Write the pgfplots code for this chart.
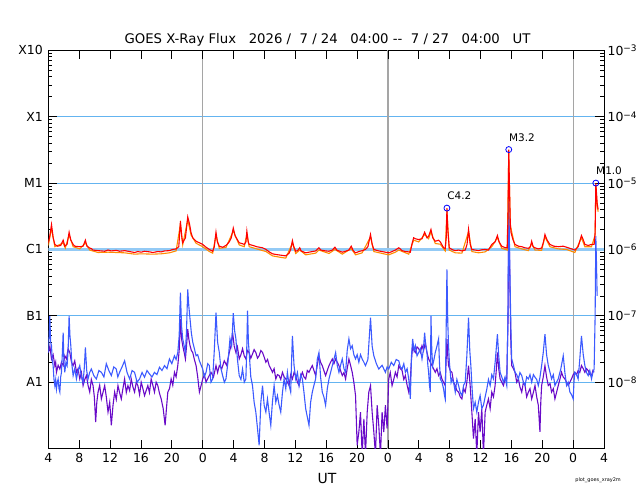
\documentclass[border=0pt]{standalone}
\usepackage{pgfplots}
\pgfplotsset{compat=1.18}
\usepackage{fontspec}
\setmainfont{DejaVu Sans}
\definecolor{goesred}{RGB}{255,0,0}
\definecolor{goesorange}{RGB}{255,140,0}
\definecolor{goesblue}{RGB}{60,90,255}
\definecolor{goespurple}{RGB}{105,10,200}
\definecolor{gridblue}{RGB}{100,180,240}
\definecolor{daygray}{RGB}{165,165,165}
\newcommand{\sexp}[1]{10\raisebox{0.55ex}{\fontsize{9}{9}\selectfont −#1}}
\begin{document}
\begin{tikzpicture}
\begin{axis}[
  width=557.5pt, height=399.5pt, scale only axis,
  xmin=0, xmax=72, ymode=log, ymin=1e-9, ymax=1e-3,
  xtick={0,4,...,72},
  xticklabels={4,8,12,16,20,0,4,8,12,16,20,0,4,8,12,16,20,0,4},
  ytick={1e-8,1e-7,1e-6,1e-5,1e-4,1e-3},
  yticklabels={A1,B1,C1,M1,X1,X10},
  tick align=inside, major tick length=9pt, minor tick length=4pt,
  tick style={black, line width=0.7pt},
  axis line style={black, line width=0.8pt},
  ymajorgrids, major grid style={gridblue, line width=0.8pt},
  extra x ticks={20,44,68}, extra x tick labels={},
  extra x tick style={grid=major, major grid style={daygray, line width=1.2pt}},
  tick label style={font=\fontsize{12.5}{14}\selectfont},
  xticklabel style={yshift=-1pt},
  yticklabel style={xshift=-2pt},
  clip=true,
]
\draw[gridblue!70, line width=2.6pt] (axis cs:0,1e-6) -- (axis cs:72,1e-6);
% short channel secondary (purple)
\addplot[goespurple, line width=1.1pt] table {
0.0 2.8e-8
0.2 3.5e-8
0.41 2.24e-8
0.62 2.6e-8
0.84 1.78e-8
0.95 2.0e-8
1.05 1.41e-8
1.27 1.8e-8
1.49 1.58e-8
1.7 2.0e-8
1.92 1.78e-8
2.13 2.5e-8
2.35 2.24e-8
2.56 3.2e-8
2.78 2.8e-8
3.0 2.0e-8
3.21 1.78e-8
3.42 2.1e-8
3.64 1.41e-8
3.85 1.6e-8
4.07 1.12e-8
4.28 1.4e-8
4.50 8.9e-9
4.72 1.1e-8
4.93 1.26e-8
5.14 9e-9
5.36 7.1e-9
5.57 1.1e-8
5.79 8.9e-9
5.96 6e-9
6.13 2.5e-9
6.28 5e-9
6.44 7.1e-9
6.65 9e-9
6.87 5.6e-9
7.08 7e-9
7.30 8.9e-9
7.51 6e-9
7.73 3.55e-9
7.95 5e-9
8.16 2.24e-9
8.38 4.5e-9
8.59 7.1e-9
8.8 5.5e-9
9.02 8.9e-9
9.23 7e-9
9.45 5.6e-9
9.66 8e-9
9.88 1.12e-8
10.1 7e-9
10.31 8.9e-9
10.53 7.5e-9
10.74 1.12e-8
10.96 8.5e-9
11.17 7.1e-9
11.39 1.0e-8
11.60 8.9e-9
11.82 6.5e-9
12.03 1.0e-8
12.25 8e-9
12.46 6.3e-9
12.68 7.5e-9
12.89 8.9e-9
13.1 7e-9
13.32 1.12e-8
13.54 9e-9
13.75 7.1e-9
13.97 1.0e-8
14.18 8.9e-9
14.4 6.8e-9
14.62 5.6e-9
14.88 4e-9
15.13 2.24e-9
15.3 4e-9
15.48 7.1e-9
15.7 8e-9
15.91 1.12e-8
16.12 9e-9
16.34 1.41e-8
16.55 1.2e-8
16.77 1.78e-8
16.95 3e-8
17.11 8.9e-8
17.26 4.5e-8
17.41 3.55e-8
17.6 2.8e-8
17.76 2.24e-8
17.9 3.5e-8
18.06 6.3e-8
18.2 4.5e-8
18.36 3.55e-8
18.53 3.0e-8
18.71 2.8e-8
18.92 2.2e-8
19.14 1.78e-8
19.35 1.2e-8
19.57 7.1e-9
19.8 9e-9
20.0 1.12e-8
20.22 1.3e-8
20.43 1.0e-8
20.75 1.2e-8
21.07 1.41e-8
21.4 1.2e-8
21.72 1.78e-8
21.93 1.4e-8
22.15 1.78e-8
22.47 1.6e-8
22.79 2.1e-8
23.1 1.8e-8
23.44 2.8e-8
23.65 3.5e-8
23.87 5.6e-8
24.08 3.5e-8
24.30 2.8e-8
24.5 3.4e-8
24.73 2.24e-8
24.95 2.6e-8
25.16 3.2e-8
25.38 2.5e-8
25.59 2.24e-8
25.8 3.0e-8
26.02 2.8e-8
26.23 2.3e-8
26.45 2.66e-8
26.66 3.1e-8
26.88 2.8e-8
27.1 2.3e-8
27.31 2.5e-8
27.53 3.0e-8
27.75 2.8e-8
27.96 2.4e-8
28.18 2.0e-8
28.4 2.2e-8
28.61 1.78e-8
28.82 1.6e-8
29.04 1.41e-8
29.25 1.6e-8
29.47 1.12e-8
29.68 1.3e-8
29.90 1.26e-8
30.11 1.1e-8
30.33 1.41e-8
30.55 1.2e-8
30.76 1.12e-8
30.97 1.0e-8
31.19 8.9e-9
31.4 1.3e-8
31.62 1.12e-8
31.83 1.4e-8
32.05 1.26e-8
32.27 1.0e-8
32.48 8.9e-9
32.7 1.2e-8
32.91 1.41e-8
33.12 1.2e-8
33.34 1.12e-8
33.55 1.5e-8
33.77 1.41e-8
33.98 1.6e-8
34.20 1.78e-8
34.41 1.5e-8
34.63 1.26e-8
34.84 1.8e-8
35.06 2.5e-8
35.27 2.0e-8
35.49 1.78e-8
35.7 1.5e-8
35.92 1.26e-8
36.14 1.5e-8
36.36 1.78e-8
36.57 2.0e-8
36.79 2.24e-8
37.0 1.9e-8
37.22 2.24e-8
37.43 2.0e-8
37.65 1.78e-8
37.86 1.5e-8
38.08 1.26e-8
38.3 1.4e-8
38.51 1.12e-8
38.72 1.6e-8
38.94 2.24e-8
39.15 1.8e-8
39.37 1.41e-8
39.58 1.0e-8
39.80 6.3e-9
40.01 1.12e-9
40.23 1.78e-9
40.44 3.55e-9
40.66 8e-10
40.88 2.8e-9
41.09 8e-10
41.31 3.55e-9
41.52 7.1e-9
41.74 8.9e-9
41.95 3.55e-9
42.17 1.78e-9
42.38 8e-10
42.60 4.5e-9
42.81 2.24e-9
43.03 8e-10
43.24 3.55e-9
43.46 1.78e-9
43.67 4.5e-9
43.89 2.0e-9
44.10 1.12e-8
44.3 1.4e-8
44.53 8.9e-9
44.75 1.1e-8
44.96 1.41e-8
45.18 1.2e-8
45.40 1.78e-8
45.6 1.6e-8
45.83 1.5e-8
46.05 1.1e-8
46.26 1.26e-8
46.48 9e-9
46.69 7.1e-9
46.80 9e-9
46.90 1.12e-8
47.05 2.2e-8
47.20 3.55e-8
47.38 3.0e-8
47.55 2.8e-8
47.77 3.4e-8
47.98 3.2e-8
48.2 2.8e-8
48.41 3.55e-8
48.62 3.0e-8
48.84 4.0e-8
49.05 2.8e-8
49.27 2.24e-8
49.48 2.0e-8
49.70 1.78e-8
49.9 1.6e-8
50.13 1.41e-8
50.35 1.6e-8
50.56 1.26e-8
50.78 1.4e-8
50.99 1.12e-8
51.2 1.0e-8
51.42 8.9e-9
51.53 2e-8
51.64 4.5e-8
51.75 2.5e-8
51.85 1.78e-8
52.07 1.5e-8
52.29 1.41e-8
52.5 1.0e-8
52.72 8.9e-9
52.93 7.5e-9
53.15 7.1e-9
53.37 6e-9
53.58 5.6e-9
53.8 8e-9
54.01 7.1e-9
54.22 1.0e-8
54.44 1.78e-8
54.65 8.9e-9
54.87 3.55e-9
55.08 1.41e-9
55.30 2.8e-9
55.51 8e-10
55.73 3.55e-9
55.94 1.78e-9
56.16 4.0e-9
56.37 8e-10
56.59 3.55e-9
56.8 4.5e-9
57.02 5.6e-9
57.24 4e-9
57.45 7.1e-9
57.67 6e-9
57.88 8.9e-9
58.03 1.5e-8
58.18 2.8e-8
58.35 1.6e-8
58.53 1.12e-8
58.75 1.0e-8
58.96 8.9e-9
59.17 1.1e-8
59.39 1.12e-8
59.55 8e-8
59.65 5e-6
59.80 3e-7
59.92 4e-8
60.03 1.78e-8
60.25 1.6e-8
60.46 1.41e-8
60.68 1.0e-8
60.90 1.12e-8
61.1 8.5e-9
61.33 7.1e-9
61.55 1.0e-8
61.76 8.9e-9
61.97 6e-9
62.19 7.1e-9
62.4 8e-9
62.62 5.6e-9
62.84 7e-9
63.05 8.9e-9
63.27 6e-9
63.48 4.5e-9
63.69 1.78e-9
63.8 5e-9
63.91 8.9e-9
64.12 1.2e-8
64.34 1.78e-8
64.55 1.2e-8
64.77 8.9e-9
65.0 9.5e-9
65.20 7.1e-9
65.42 8e-9
65.63 5.6e-9
65.84 7e-9
66.06 8.9e-9
66.27 1.1e-8
66.49 1.41e-8
66.7 1.2e-8
66.92 1.12e-8
67.14 1.0e-8
67.35 8.9e-9
67.57 1.0e-8
67.78 1.12e-8
68.0 1.3e-8
68.21 1.41e-8
68.43 1.3e-8
68.64 1.5e-8
68.85 1.4e-8
69.07 1.78e-8
69.3 1.6e-8
69.51 1.41e-8
69.72 1.6e-8
69.94 1.5e-8
70.15 1.3e-8
70.37 1.26e-8
70.55 1.5e-8
70.71 1.41e-8
};
% short channel primary (blue)
\addplot[goesblue, line width=1.1pt] table {
0.0 2.8e-8
0.1 5e-8
0.19 1.0e-7
0.3 4e-8
0.41 3.55e-8
0.5 2.2e-8
0.62 1.78e-8
0.73 1.1e-8
0.84 8.9e-9
0.95 1.1e-8
1.05 7.9e-9
1.16 1.0e-8
1.27 1.12e-8
1.38 8e-9
1.49 7.1e-9
1.6 1.2e-8
1.70 1.41e-8
1.8 2.5e-8
1.92 5.6e-8
2.02 2e-8
2.13 1.41e-8
2.28 2.0e-8
2.43 1.78e-8
2.56 3e-8
2.69 1.0e-7
2.8 5e-8
2.91 3.55e-8
3.06 1.8e-8
3.21 1.26e-8
3.42 1.6e-8
3.64 1.12e-8
3.85 1.5e-8
4.07 1.78e-8
4.28 1.2e-8
4.50 1.0e-8
4.65 1.6e-8
4.80 3.35e-8
4.97 1.5e-8
5.14 1.12e-8
5.35 1.4e-8
5.57 1.58e-8
5.9 1.25e-8
6.22 1.12e-8
6.55 1.5e-8
6.87 1.41e-8
7.2 1.2e-8
7.51 1.9e-8
7.84 1.5e-8
8.16 1.26e-8
8.48 1.7e-8
8.80 1.58e-8
9.0 1.2e-8
9.23 1.41e-8
9.55 1.7e-8
9.88 2.1e-8
10.2 1.4e-8
10.53 1.12e-8
10.85 1.5e-8
11.17 1.41e-8
11.5 1.0e-8
11.82 1.12e-8
12.14 1.4e-8
12.46 1.19e-8
12.78 1.5e-8
13.11 1.33e-8
13.43 1.2e-8
13.75 1.41e-8
14.07 1.3e-8
14.40 1.68e-8
14.72 1.5e-8
15.05 1.78e-8
15.37 1.6e-8
15.69 2.24e-8
16.0 1.9e-8
16.34 2.5e-8
16.55 2.2e-8
16.77 2.8e-8
16.95 5e-8
17.11 2.24e-7
17.26 7e-8
17.41 4.5e-8
17.6 3.5e-8
17.76 2.8e-8
17.9 6e-8
18.06 2.5e-7
18.2 1.4e-7
18.36 8.9e-8
18.53 5.5e-8
18.71 4.0e-8
18.92 3.2e-8
19.14 2.5e-8
19.35 2.6e-8
19.57 2.1e-8
19.8 1.8e-8
20.0 1.58e-8
20.2 1.2e-8
20.43 1.41e-8
20.65 1.9e-8
20.86 1.78e-8
21.07 1.0e-8
21.29 1.12e-8
21.5 3e-8
21.72 1.12e-7
21.93 4e-8
22.15 2.8e-8
22.36 1.6e-8
22.58 1.26e-8
22.8 1.0e-8
23.01 1.12e-8
23.27 2.0e-8
23.53 4.5e-8
23.75 3.5e-8
23.96 1.1e-7
24.13 6e-8
24.30 4.5e-8
24.5 2.2e-8
24.73 1.26e-8
24.95 1.1e-8
25.16 1.58e-8
25.38 1.0e-8
25.59 1.12e-8
25.7 3e-8
25.81 1.2e-7
25.92 4e-8
26.02 2.8e-8
26.23 1.2e-8
26.45 8.9e-9
26.66 5e-9
26.88 3.55e-9
27.1 2e-9
27.31 1.12e-9
27.53 5e-9
27.75 8.9e-9
27.96 4.5e-9
28.18 3.55e-9
28.39 5.6e-9
28.6 3.5e-9
28.82 2.24e-9
29.03 5e-9
29.25 8.9e-9
29.47 5e-9
29.68 6.3e-9
29.9 4.5e-9
30.11 3.55e-9
30.33 7e-9
30.54 1.12e-8
30.76 8e-9
30.97 1.41e-8
31.19 9e-9
31.40 7.1e-9
31.51 2e-8
31.62 5.0e-8
31.83 1.8e-8
32.05 1.12e-8
32.27 1.4e-8
32.48 8.9e-9
32.7 1.3e-8
32.91 1.12e-8
33.12 7e-9
33.34 4.0e-9
33.55 3e-9
33.77 2.24e-9
33.98 5e-9
34.20 7.1e-9
34.41 9e-9
34.63 1.12e-8
34.84 2.2e-8
35.06 2.8e-8
35.27 1.2e-8
35.49 7.1e-9
35.7 6e-9
35.92 4.5e-9
36.14 8e-9
36.36 1.12e-8
36.57 1.4e-8
36.79 1.78e-8
37.0 2.2e-8
37.22 2.8e-8
37.43 1.8e-8
37.65 1.41e-8
37.86 1.8e-8
38.08 2.24e-8
38.3 1.6e-8
38.51 1.41e-8
38.72 3e-8
38.94 4.5e-8
39.15 3.2e-8
39.37 3.55e-8
39.58 2.6e-8
39.80 2.24e-8
40.01 2.6e-8
40.23 2.0e-8
40.44 2.6e-8
40.66 2.24e-8
40.88 2.0e-8
41.09 1.78e-8
41.4 2.2e-8
41.74 9.4e-8
41.95 3.5e-8
42.17 2.5e-8
42.5 1.9e-8
42.81 1.58e-8
43.24 1.8e-8
43.67 1.41e-8
43.89 1.7e-8
44.10 1.58e-8
44.43 2.0e-8
44.75 1.78e-8
45.07 2.2e-8
45.40 2.1e-8
45.6 1.7e-8
45.83 1.58e-8
46.05 1.9e-8
46.26 1.41e-8
46.48 1.6e-8
46.69 1.12e-8
46.80 8e-9
46.90 5.6e-9
47.05 2.5e-8
47.20 4.5e-8
47.38 3.0e-8
47.55 3.55e-8
47.77 2.5e-8
47.98 2.8e-8
48.2 3.2e-8
48.41 2.24e-8
48.58 3.0e-8
48.75 5.6e-8
48.9 3.5e-8
49.06 2.8e-8
49.17 1.8e-8
49.27 1.41e-8
49.38 9e-9
49.49 7.1e-9
49.57 1.0e-7
49.68 3e-8
49.79 1.78e-8
49.96 2.2e-8
50.13 2.8e-8
50.35 3.5e-8
50.56 4.5e-8
50.67 2e-8
50.78 1.12e-8
51.0 1.0e-8
51.21 7.9e-9
51.31 6.5e-9
51.42 5.6e-9
51.53 5e-8
51.64 5.0e-7
51.75 8e-8
51.85 3.55e-8
51.96 2e-8
52.07 1.41e-8
52.18 1.0e-8
52.29 1.12e-8
52.5 1.0e-8
52.72 7.1e-9
52.93 1.1e-8
53.15 8.9e-9
53.37 7e-9
53.58 6.3e-9
53.8 9e-9
54.01 1.0e-8
54.22 2.5e-8
54.44 9.4e-8
54.6 3e-8
54.74 1.78e-8
54.9 8e-9
55.08 4.0e-9
55.3 5e-9
55.51 3.55e-9
55.73 5e-9
55.94 6.3e-9
56.16 4e-9
56.37 4.5e-9
56.59 6e-9
56.81 7.9e-9
57.02 1.1e-8
57.24 8.9e-9
57.45 1.3e-8
57.67 1.12e-8
57.92 2.2e-8
58.18 5.3e-8
58.35 2.5e-8
58.53 1.41e-8
58.75 1.2e-8
58.96 1.0e-8
59.17 1.2e-8
59.39 8.9e-9
59.55 1e-7
59.65 7e-6
59.75 1e-6
59.85 2e-7
59.95 5e-8
60.03 2.24e-8
60.25 1.8e-8
60.46 1.41e-8
60.68 1.3e-8
60.90 1.12e-8
61.1 1.4e-8
61.33 1.26e-8
61.55 1.0e-8
61.76 8.9e-9
61.97 1.2e-8
62.19 1.12e-8
62.4 1.3e-8
62.62 1.0e-8
62.84 1.3e-8
63.05 1.19e-8
63.27 1.1e-8
63.48 8.9e-9
63.7 1.2e-8
63.91 1.78e-8
64.12 2.8e-8
64.34 5.3e-8
64.55 2.6e-8
64.77 1.78e-8
65.0 1.4e-8
65.20 1.12e-8
65.42 1.3e-8
65.63 8.9e-9
65.84 1.0e-8
66.06 1.12e-8
66.4 1.6e-8
66.71 2.5e-8
66.92 1.4e-8
67.14 8.9e-9
67.35 1.0e-8
67.57 7.1e-9
67.78 6.5e-9
68.0 5.6e-9
68.1 1.0e-8
68.21 1.41e-8
68.43 1.3e-8
68.64 1.12e-8
68.85 2.2e-8
69.07 5.0e-8
69.3 2.6e-8
69.51 1.78e-8
69.72 1.4e-8
69.94 1.26e-8
70.15 1.5e-8
70.37 1.12e-8
70.55 1.4e-8
70.71 1.58e-8
70.84 1e-7
70.93 1.6e-6
71.02 6e-7
71.10 2e-7
};
% long channel secondary (orange)
\addplot[goesorange, line width=1.1pt] table {
0.0 1.15e-6
0.41 2.1e-6
0.84 1.1e-6
1.92 1.25e-6
2.2 1.05e-6
2.69 1.65e-6
3.21 1.1e-6
4.07 1.02e-6
4.8 1.25e-6
5.36 0.98e-6
6.44 0.9e-6
7.73 0.91e-6
8.8 0.9e-6
9.88 0.89e-6
11.17 0.85e-6
12.03 0.86e-6
13.54 0.85e-6
14.62 0.86e-6
15.69 0.89e-6
16.55 0.95e-6
17.11 2.4e-6
17.41 1.18e-6
18.06 2.8e-6
18.49 1.65e-6
19.14 1.24e-6
20.0 1.1e-6
20.86 0.93e-6
21.29 0.88e-6
21.72 1.65e-6
22.15 1.04e-6
23.01 1.07e-6
23.96 1.9e-6
24.73 1.17e-6
25.38 1.1e-6
25.72 1.7e-6
26.02 1.1e-6
27.0 1.02e-6
28.2 0.93e-6
29.04 0.8e-6
30.11 0.76e-6
30.76 0.74e-6
31.62 1.25e-6
32.05 0.87e-6
32.57 0.98e-6
33.34 0.83e-6
34.63 0.88e-6
35.06 0.98e-6
36.36 0.87e-6
37.13 1.0e-6
38.08 0.85e-6
39.24 1.03e-6
39.8 0.83e-6
40.66 0.89e-6
41.74 1.55e-6
42.17 0.93e-6
43.46 0.86e-6
44.10 0.83e-6
44.96 0.91e-6
45.4 0.98e-6
46.69 0.85e-6
47.33 1.38e-6
47.98 1.3e-6
48.75 1.68e-6
49.27 1.45e-6
49.57 1.85e-6
50.13 1.23e-6
50.78 1.2e-6
51.42 0.95e-6
51.64 3.8e-6
51.94 0.98e-6
52.72 0.89e-6
53.58 0.88e-6
54.44 1.85e-6
54.87 0.93e-6
55.73 0.89e-6
56.59 0.92e-6
57.45 1.1e-6
58.18 1.5e-6
58.74 1.04e-6
59.45 0.98e-6
59.65 2.9e-5
59.85 2.3e-6
60.46 1.1e-6
61.33 1.02e-6
62.19 0.96e-6
62.62 1.23e-6
63.05 0.98e-6
63.91 0.97e-6
64.34 1.55e-6
64.98 1.1e-6
66.06 1.02e-6
67.14 1.0e-6
68.21 0.9e-6
69.07 1.5e-6
69.51 1.1e-6
70.37 1.1e-6
70.84 1.65e-6
70.93 9.2e-6
71.1 4.6e-6
71.23 3.7e-6
};
% long channel primary (red)
\addplot[goesred, line width=1.1pt] table {
0.0 1.26e-6
0.19 1.6e-6
0.41 2.37e-6
0.62 1.5e-6
0.84 1.19e-6
1.2 1.12e-6
1.6 1.15e-6
1.92 1.38e-6
2.13 1.12e-6
2.43 1.2e-6
2.69 1.82e-6
2.9 1.4e-6
3.21 1.19e-6
3.42 1.12e-6
4.07 1.1e-6
4.5 1.12e-6
4.80 1.38e-6
5.0 1.12e-6
5.36 1.05e-6
5.57 1.03e-6
5.79 0.98e-6
6.44 0.96e-6
7.3 0.94e-6
7.73 0.98e-6
8.16 0.95e-6
8.8 0.97e-6
9.23 0.94e-6
9.88 0.96e-6
10.53 0.93e-6
11.17 0.90e-6
11.6 0.93e-6
12.03 0.91e-6
12.46 0.94e-6
13.11 0.92e-6
13.54 0.90e-6
14.18 0.93e-6
14.62 0.92e-6
15.05 0.95e-6
15.69 0.96e-6
16.12 1.0e-6
16.55 1.02e-6
16.9 1.1e-6
17.11 2.66e-6
17.3 1.5e-6
17.41 1.26e-6
17.76 1.5e-6
18.06 3.1e-6
18.3 2.4e-6
18.49 1.78e-6
18.71 1.5e-6
19.14 1.33e-6
19.57 1.26e-6
20.0 1.19e-6
20.43 1.08e-6
20.86 1.0e-6
21.29 0.94e-6
21.5 1.1e-6
21.72 1.82e-6
21.9 1.3e-6
22.15 1.12e-6
22.58 1.08e-6
23.01 1.15e-6
23.44 1.3e-6
23.7 1.5e-6
23.96 2.1e-6
24.2 1.6e-6
24.73 1.26e-6
25.16 1.22e-6
25.38 1.19e-6
25.6 1.3e-6
25.72 1.88e-6
25.9 1.3e-6
26.02 1.19e-6
26.5 1.15e-6
27.0 1.1e-6
27.75 1.06e-6
28.2 1.0e-6
28.61 0.92e-6
29.04 0.86e-6
29.5 0.84e-6
30.11 0.82e-6
30.76 0.80e-6
31.19 0.88e-6
31.4 1.0e-6
31.62 1.36e-6
31.8 1.1e-6
32.05 0.94e-6
32.3 0.96e-6
32.57 1.06e-6
32.75 0.95e-6
33.34 0.89e-6
33.77 0.91e-6
34.2 0.93e-6
34.63 0.95e-6
35.06 1.06e-6
35.3 0.98e-6
35.92 0.95e-6
36.36 0.94e-6
36.79 0.98e-6
37.13 1.08e-6
37.4 0.97e-6
37.65 0.95e-6
38.08 0.91e-6
38.51 0.94e-6
38.94 0.98e-6
39.24 1.12e-6
39.5 0.96e-6
39.8 0.89e-6
40.23 0.93e-6
40.66 0.96e-6
41.09 1.0e-6
41.4 1.1e-6
41.74 1.68e-6
41.95 1.2e-6
42.17 1.0e-6
42.81 0.95e-6
43.46 0.92e-6
44.10 0.89e-6
44.53 0.93e-6
44.96 0.98e-6
45.4 1.06e-6
45.6 1.02e-6
45.83 0.96e-6
46.26 0.93e-6
46.69 0.92e-6
46.9 0.91e-6
47.1 1.2e-6
47.33 1.5e-6
47.55 1.45e-6
47.98 1.41e-6
48.41 1.45e-6
48.75 1.82e-6
49.06 1.5e-6
49.27 1.58e-6
49.57 2.0e-6
49.8 1.5e-6
50.13 1.33e-6
50.56 1.38e-6
50.78 1.3e-6
51.21 1.06e-6
51.42 1.03e-6
51.55 1.5e-6
51.64 4.2e-6
51.75 2.0e-6
51.94 1.06e-6
52.29 1.0e-6
52.72 0.96e-6
53.15 0.98e-6
53.58 0.95e-6
54.01 0.98e-6
54.25 1.2e-6
54.44 2.0e-6
54.65 1.2e-6
54.87 1.0e-6
55.3 0.98e-6
55.73 0.96e-6
56.16 0.99e-6
56.59 1.0e-6
57.02 0.98e-6
57.45 1.19e-6
57.88 1.3e-6
58.18 1.62e-6
58.4 1.3e-6
58.74 1.12e-6
59.2 1.06e-6
59.45 1.06e-6
59.55 3e-6
59.65 3.2e-5
59.75 8e-6
59.85 2.5e-6
59.95 1.78e-6
60.2 1.4e-6
60.46 1.19e-6
60.9 1.12e-6
61.33 1.1e-6
61.76 1.06e-6
62.19 1.04e-6
62.45 1.1e-6
62.62 1.33e-6
62.8 1.1e-6
63.05 1.06e-6
63.48 1.02e-6
63.91 1.05e-6
64.15 1.3e-6
64.34 1.68e-6
64.6 1.4e-6
64.98 1.19e-6
65.5 1.12e-6
66.06 1.1e-6
66.71 1.12e-6
67.14 1.08e-6
67.57 1.04e-6
68.0 1.0e-6
68.21 0.98e-6
68.64 1.1e-6
69.07 1.62e-6
69.3 1.4e-6
69.51 1.19e-6
69.94 1.15e-6
70.37 1.19e-6
70.71 1.19e-6
70.84 1.8e-6
70.93 1.0e-5
71.02 7e-6
71.10 5e-6
71.23 4e-6
};
% flare markers
\addplot[only marks, mark=o, mark size=3pt, blue, line width=0.8pt,
  point meta=explicit symbolic, nodes near coords,
  every node near coord/.append style={black, font=\fontsize{10.5}{12}\selectfont, anchor=south west, inner sep=0pt, xshift=0pt, yshift=8pt}]
  coordinates {(51.64,4.2e-6) [C4.2] (59.65,3.2e-5) [M3.2] (70.93,1.0e-5) [M1.0]};
\end{axis}
\begin{axis}[
  width=557.5pt, height=399.5pt, scale only axis,
  xmin=0, xmax=72, ymode=log, ymin=1e-9, ymax=1e-3,
  hide x axis, axis y line*=right, axis line style={draw=none},
  ytick={1e-8,1e-7,1e-6,1e-5,1e-4,1e-3},
  yticklabels={\sexp{8},\sexp{7},\sexp{6},\sexp{5},\sexp{4},\sexp{3}},
  major tick length=0pt, yminorticks=false,
  tick label style={font=\fontsize{12.5}{14}\selectfont},
  yticklabel style={xshift=0pt},
]
\end{axis}
\node[anchor=base, font=\fontsize{13.3}{15}\selectfont] at (280pt,406pt)
  {GOES X-Ray Flux\ \ \ 2026 /\ \ 7 / 24\ \ \ 04:00 -{}-\ \ 7 / 27\ \ \ 04:00\ \ \ UT};
\node[anchor=base, font=\fontsize{14}{16}\selectfont] at (279.5pt,-35pt) {UT};
\node[font=\fontsize{5}{6}\selectfont] at (551.5pt,-32pt) {plot\_goes\_xray2m};
\path[use as bounding box] (-48.5pt,-50pt) rectangle (591.5pt,450pt);
\end{tikzpicture}
\end{document}
